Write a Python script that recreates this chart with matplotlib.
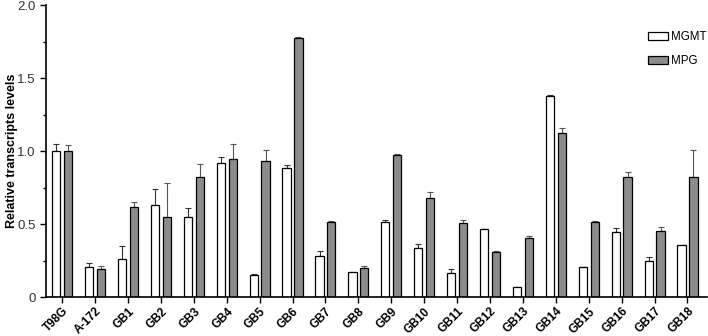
import matplotlib
matplotlib.use("Agg")
import matplotlib.pyplot as plt
import numpy as np
from matplotlib.ticker import MultipleLocator

categories = ["T98G", "A-172", "GB1", "GB2", "GB3", "GB4", "GB5", "GB6", "GB7", "GB8",
              "GB9", "GB10", "GB11", "GB12", "GB13", "GB14", "GB15", "GB16", "GB17", "GB18"]
mgmt = [1.00, 0.207, 0.26, 0.63, 0.549, 0.919, 0.148, 0.882, 0.278, 0.171,
        0.514, 0.336, 0.162, 0.466, 0.068, 1.374, 0.205, 0.447, 0.246, 0.353]
mgmt_err = [0.049, 0.026, 0.089, 0.109, 0.06, 0.043, 0.007, 0.025, 0.034, 0.003,
            0.011, 0.027, 0.03, 0.003, 0.002, 0.01, 0.004, 0.025, 0.028, 0.003]
mpg = [1.00, 0.19, 0.618, 0.549, 0.822, 0.948, 0.93, 1.776, 0.516, 0.199,
       0.973, 0.675, 0.504, 0.31, 0.406, 1.123, 0.516, 0.822, 0.449, 0.822]
mpg_err = [0.04, 0.024, 0.032, 0.233, 0.088, 0.103, 0.08, 0.004, 0.007, 0.011,
           0.004, 0.044, 0.023, 0.003, 0.012, 0.034, 0.004, 0.034, 0.03, 0.182]

plt.rcParams['font.family'] = ['Liberation Sans', 'DejaVu Sans']

fig = plt.figure(figsize=(7.08, 3.36), dpi=100)
ax = fig.add_axes([0.065, 0.116, 0.933, 0.869])

x = np.arange(len(categories))
w = 0.25
off = 0.18
ax.bar(x - off, mgmt, w, color="white", edgecolor="black", linewidth=0.9,
       label="MGMT", zorder=2)
ax.bar(x + off, mpg, w, color="#8c8c8c", edgecolor="black", linewidth=0.9,
       label="MPG", zorder=2)
ax.errorbar(x - off, mgmt, yerr=[np.zeros(len(mgmt)), mgmt_err], fmt="none",
            ecolor="#333333", elinewidth=0.8, capsize=2, capthick=0.8, zorder=1)
ax.errorbar(x + off, mpg, yerr=[np.zeros(len(mpg)), mpg_err], fmt="none",
            ecolor="#555555", elinewidth=0.8, capsize=2, capthick=0.8, zorder=1)

ax.set_xlim(-0.49, 19.58)
ax.set_ylim(0, 2.0)
ax.yaxis.set_minor_locator(MultipleLocator(0.25))
ax.set_yticks([0, 0.5, 1.0, 1.5, 2.0])
ax.set_yticklabels(["0", "0.5", "1.0", "1.5", "2.0"], fontsize=9.5, color="#333333")
ax.set_xticks(x)
ax.set_xticklabels(categories, rotation=45, ha="right", rotation_mode="anchor",
                   fontsize=8.5, fontweight="bold")
ax.tick_params(axis="x", which="major", length=4, width=1, pad=2)
ax.tick_params(axis="y", which="major", length=4, width=1)
ax.tick_params(axis="y", which="minor", length=2.5, width=1)
ax.set_ylabel("Relative transcripts levels", fontsize=9, fontweight="bold")
ax.yaxis.set_label_coords(-0.043, 0.5)

for s in ["top", "right"]:
    ax.spines[s].set_visible(False)
for s in ["left", "bottom"]:
    ax.spines[s].set_linewidth(1.2)

fig.legend(*ax.get_legend_handles_labels(), loc="upper left",
           bbox_to_anchor=(648 / 708, 1 - 31 / 336), frameon=False,
           fontsize=8.3, handlelength=1.7, handleheight=0.6, labelspacing=1.05,
           handletextpad=0.3, borderpad=0, borderaxespad=0)

fig.savefig("out.png", dpi=100)
